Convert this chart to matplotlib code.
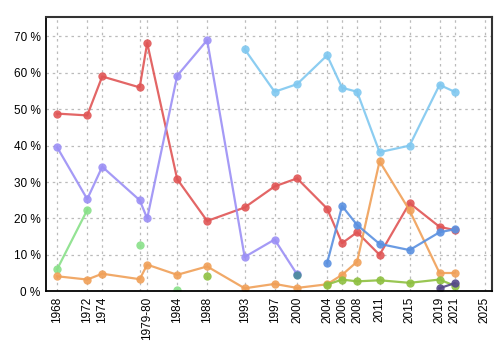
import matplotlib
matplotlib.use("Agg")
import matplotlib.pyplot as plt
import numpy as np

plt.rcParams['font.family'] = ['Liberation Sans', 'DejaVu Sans']

# Data (year, percent); None breaks a line
red_x = [1968, 1972, 1974, 1979, 1980, 1984, 1988, 1993, 1997, 2000, 2004, 2006, 2008, 2011, 2015, 2019, 2021]
red_y = [48.8, 48.3, 59.0, 56.0, 68.2, 30.8, 19.3, 23.0, 28.8, 31.0, 22.7, 13.2, 16.2, 10.0, 24.2, 17.7, 16.8]

lav_x = [1968, 1972, 1974, 1979, 1980, 1984, 1988, 1993, 1997, 2000]
lav_y = [39.5, 25.3, 34.2, 25.0, 20.0, 59.2, 69.0, 9.4, 14.2, 4.6]

sky_x = [1993, 1997, 2000, 2004, 2006, 2008, 2011, 2015, 2019, 2021]
sky_y = [66.5, 54.8, 56.9, 64.8, 55.9, 54.8, 38.2, 40.0, 56.7, 54.8]

lgreen_x = [1968, 1972]
lgreen_y = [6.1, 22.3]
lgreen_pts_x = [1979, 1984]
lgreen_pts_y = [12.8, 0.4]

orange_x = [1968, 1972, 1974, 1979, 1980, 1984, 1988, 1993, 1997, 2000, 2004, 2006, 2008, 2011, 2015, 2019, 2021]
orange_y = [4.1, 3.2, 4.8, 3.3, 7.3, 4.5, 6.8, 0.8, 2.0, 0.9, 1.9, 4.5, 8.1, 35.7, 22.2, 5.0, 5.0]

olive_pt_x = [1988]
olive_pt_y = [4.2]
olive_x = [2004, 2006, 2008, 2011, 2015, 2019, 2021]
olive_y = [1.8, 3.2, 2.7, 3.0, 2.3, 3.2, 1.5]

blue_pt_x = [2000]
blue_pt_y = [4.5]
blue_x = [2004, 2006, 2008, 2011, 2015, 2019, 2021]
blue_y = [7.7, 23.4, 18.2, 13.0, 11.3, 16.2, 17.0]

dpurple_x = [2019, 2021]
dpurple_y = [0.8, 2.2]

tick_years = [1968, 1972, 1974, 1979, 1980, 1984, 1988, 1993, 1997, 2000, 2004, 2006, 2008, 2011, 2015, 2019, 2021, 2025]
tick_labels = ["1968", "1972", "1974", "", "1979-80", "1984", "1988", "1993", "1997", "2000", "2004", "2006", "2008", "2011", "2015", "2019", "2021", "2025"]
y_ticks = [0, 10, 20, 30, 40, 50, 60, 70]

fig = plt.figure(figsize=(5, 3.5), dpi=100)
ax = fig.add_axes([0.092, 0.168, 0.892, 0.783])

kw = dict(lw=1.6, marker='o', ms=6, alpha=0.9, markeredgewidth=0)
ax.plot(red_x, red_y, color='#e05555', **kw)
ax.plot(lav_x, lav_y, color='#9b8ff5', **kw)
ax.plot(sky_x, sky_y, color='#80c8f0', **kw)
ax.plot(lgreen_x, lgreen_y, color='#88e088', **kw)
ax.plot(lgreen_pts_x, lgreen_pts_y, color='#88e088', ls='none', **{k: v for k, v in kw.items() if k != 'lw'})
ax.plot(orange_x, orange_y, color='#f0a058', **kw)
ax.plot(olive_pt_x, olive_pt_y, color='#8ec040', ls='none', **{k: v for k, v in kw.items() if k != 'lw'})
ax.plot(olive_x, olive_y, color='#8ec040', **kw)
ax.plot(blue_pt_x, blue_pt_y, color='#4a8a9a', ls='none', **{k: v for k, v in kw.items() if k != 'lw'})
ax.plot(blue_x, blue_y, color='#5a90e0', **kw)
ax.plot(dpurple_x, dpurple_y, color='#554888', **kw)

ax.set_xlim(1966.5, 2026)
ax.set_ylim(0, 75.3)
ax.set_xticks(tick_years)
ax.set_xticklabels(tick_labels, rotation=90, fontsize=8.5)
ax.set_yticks(y_ticks)
ax.set_yticklabels([f"{v} %" for v in y_ticks], fontsize=8.5)
ax.tick_params(length=0, pad=4)
ax.grid(True, color='#bbbbbb', ls=(0, (2, 3)), lw=0.9)
ax.set_axisbelow(True)
for s in ['left', 'bottom']:
    ax.spines[s].set_color('black')
    ax.spines[s].set_linewidth(1.3)
for s in ['top', 'right']:
    ax.spines[s].set_color('#333333')
    ax.spines[s].set_linewidth(1.5)

fig.savefig('out.png', dpi=100)
